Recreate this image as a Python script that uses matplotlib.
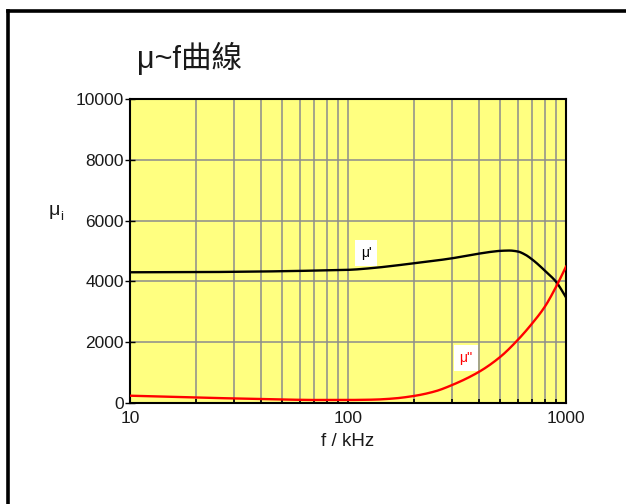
import matplotlib
matplotlib.use("Agg")
import matplotlib.pyplot as plt
from matplotlib.lines import Line2D
from matplotlib.ticker import NullFormatter, LogLocator
import numpy as np

title = "μ~f曲線"
xlabel = "f / kHz"
freq_r = [10, 20, 30, 50, 70, 100, 130, 160, 200, 250, 300, 400, 450, 500, 550, 600, 650, 700, 750, 800, 900, 1000]
mu_real = [4300, 4305, 4315, 4335, 4355, 4380, 4440, 4510, 4595, 4680, 4760, 4915, 4970, 5005, 5015, 4985, 4880, 4720, 4540, 4350, 3990, 3475]
freq_i = [10, 20, 30, 50, 70, 100, 130, 160, 200, 250, 300, 400, 500, 600, 700, 800, 900, 1000]
mu_imag = [240, 180, 150, 115, 100, 100, 110, 145, 230, 380, 590, 1030, 1520, 2070, 2620, 3170, 3820, 4485]
yticks = [0, 2000, 4000, 6000, 8000, 10000]
xticks = [10, 100, 1000]

fig = plt.figure(figsize=(6.26, 5.04), dpi=100)
W, H = 626, 504
ax = fig.add_axes([130 / W, 1 - 403 / H, 436 / W, 304 / H])
ax.set_facecolor("#FFFF80")


def smooth(fx, y, n=500):
    lx = np.log10(fx)
    pts = np.array(y, dtype=float)
    xs = np.linspace(lx[0], lx[-1], n)
    # PCHIP-style monotone tangents
    h = np.diff(lx)
    d = np.diff(pts) / h
    m = np.zeros_like(pts)
    m[0], m[-1] = d[0], d[-1]
    for i in range(1, len(pts) - 1):
        if d[i - 1] * d[i] <= 0:
            m[i] = 0.0
        else:
            w1 = 2 * h[i] + h[i - 1]
            w2 = h[i] + 2 * h[i - 1]
            m[i] = (w1 + w2) / (w1 / d[i - 1] + w2 / d[i])
    idx = np.clip(np.searchsorted(lx, xs, side="right") - 1, 0, len(lx) - 2)
    t = (xs - lx[idx]) / h[idx]
    hh = h[idx]
    h00 = 2 * t**3 - 3 * t**2 + 1
    h10 = t**3 - 2 * t**2 + t
    h01 = -2 * t**3 + 3 * t**2
    h11 = t**3 - t**2
    ys = h00 * pts[idx] + h10 * hh * m[idx] + h01 * pts[idx + 1] + h11 * hh * m[idx + 1]
    return 10 ** xs, ys


ax.plot(*smooth(freq_r, mu_real), color="black", lw=1.7, zorder=3)
ax.plot(*smooth(freq_i, mu_imag), color="#FF0000", lw=1.7, zorder=3)

ax.set_xscale("log")
ax.set_xlim(10, 1000)
ax.set_ylim(0, 10000)
ax.set_yticks(yticks)
ax.set_xticks(xticks)
ax.xaxis.set_minor_locator(LogLocator(base=10, subs=np.arange(2, 10)))
ax.xaxis.set_minor_formatter(NullFormatter())
ax.set_xticklabels([str(v) for v in xticks])
ax.set_yticklabels([str(v) for v in yticks])

ax.grid(True, which="major", axis="both", color="#8C8C8C", lw=1.1, zorder=1)
ax.grid(True, which="minor", axis="x", color="#8C8C8C", lw=1.1, zorder=1)
ax.set_axisbelow(True)

for s in ax.spines.values():
    s.set_linewidth(1.5)
    s.set_color("black")

fnt = "Liberation Sans"
ax.tick_params(axis="y", direction="inout", length=7, width=1, pad=1,
               labelsize=12.5, labelfontfamily=fnt, labelcolor="#1a1a1a")
ax.tick_params(axis="x", which="both", direction="in", length=3, width=1.2, pad=6,
               labelsize=12.5, labelfontfamily=fnt, labelcolor="#1a1a1a")


def fx(px):
    return 10 ** (1 + 2 * (px - 130) / 436)


def fy(py):
    return (403 - py) / 304 * 10000


ax.text(fx(366), fy(253), "μ'", fontsize=10, family=fnt, color="black",
        ha="center", va="center", zorder=4,
        bbox=dict(facecolor="white", edgecolor="none", pad=4))
ax.text(fx(466), fy(358), "μ''", fontsize=10, family=fnt, color="#FF0000",
        ha="center", va="center", zorder=4,
        bbox=dict(facecolor="white", edgecolor="none", pad=4))

fig.text(137 / W, 1 - 58 / H, title, fontsize=22, family=[fnt, "Noto Sans CJK TC"],
         ha="left", va="center", color="#1a1a1a")
fig.text(348 / W, 1 - 441 / H, xlabel, fontsize=13.5, family=fnt, ha="center", va="center",
         color="#1a1a1a")
fig.text(54 / W, 1 - 210 / H, "μ", fontsize=14, family=fnt, ha="center", va="center",
         color="#1a1a1a")
fig.text(62 / W, 1 - 217 / H, "i", fontsize=9.5, family=fnt, ha="center", va="center",
         color="#1a1a1a")

# outer frame (cropped: left and top edges visible)
fig.add_artist(Line2D([7.5 / W, 7.5 / W], [0, 1 - 11 / H], transform=fig.transFigure,
                      color="black", lw=2.6))
fig.add_artist(Line2D([7.5 / W, 1], [1 - 11 / H, 1 - 11 / H], transform=fig.transFigure,
                      color="black", lw=2.6))

fig.savefig("out.png", dpi=100)
